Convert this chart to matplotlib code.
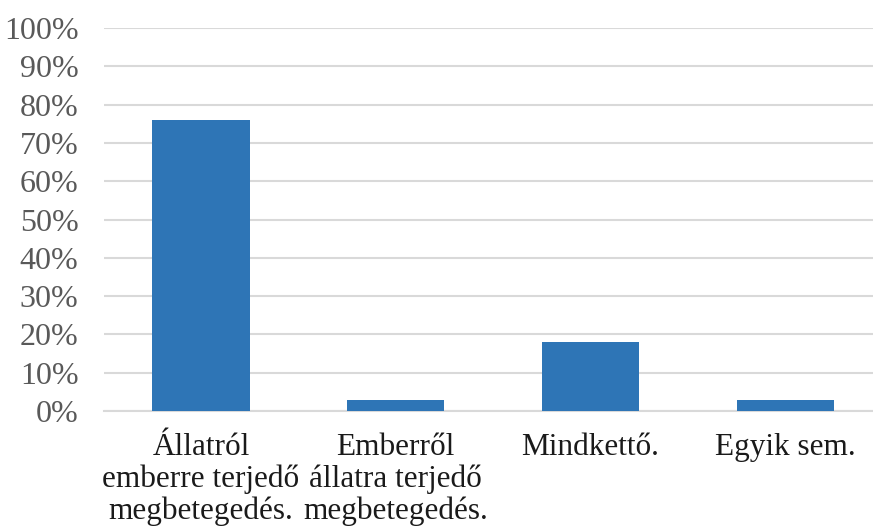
import matplotlib
matplotlib.use("Agg")
import matplotlib.pyplot as plt
from matplotlib.ticker import PercentFormatter

categories = [
    "Állatról\nemberre terjedő\nmegbetegedés.",
    "Emberről\nállatra terjedő\nmegbetegedés.",
    "Mindkettő.",
    "Egyik sem.",
]
values = [0.76, 0.03, 0.18, 0.03]
yticks = [i / 10 for i in range(11)]

BAR_COLOR = "#2e75b6"
GRID_COLOR = "#d9d9d9"
TICK_COLOR = "#595959"

plt.rcParams["font.family"] = ["Liberation Serif", "DejaVu Serif"]

fig = plt.figure(figsize=(8.73, 5.31), dpi=100)
ax = fig.add_axes([0.1186, 0.226, 1 - 0.1186, 0.947 - 0.226])

x = list(range(len(categories)))
ax.bar(x, values, width=0.5, color=BAR_COLOR, zorder=3)

ax.set_ylim(0, 1)
ax.set_xlim(-0.5, 3.45)
ax.set_yticks(yticks)
ax.yaxis.set_major_formatter(PercentFormatter(1.0, decimals=0))
ax.set_xticks(x)
ax.set_xticklabels(categories, fontsize=22.5, color="#1a1a1a", linespacing=1.1)
ax.tick_params(axis="y", length=0, pad=18, labelsize=23, labelcolor=TICK_COLOR)
ax.tick_params(axis="x", length=0, pad=16)

ax.grid(axis="y", color=GRID_COLOR, linewidth=1.5, zorder=0)
for s in ("top", "right", "left"):
    ax.spines[s].set_visible(False)
ax.spines["bottom"].set_color(GRID_COLOR)
ax.spines["bottom"].set_linewidth(1.5)

fig.savefig("out.png", dpi=100)
